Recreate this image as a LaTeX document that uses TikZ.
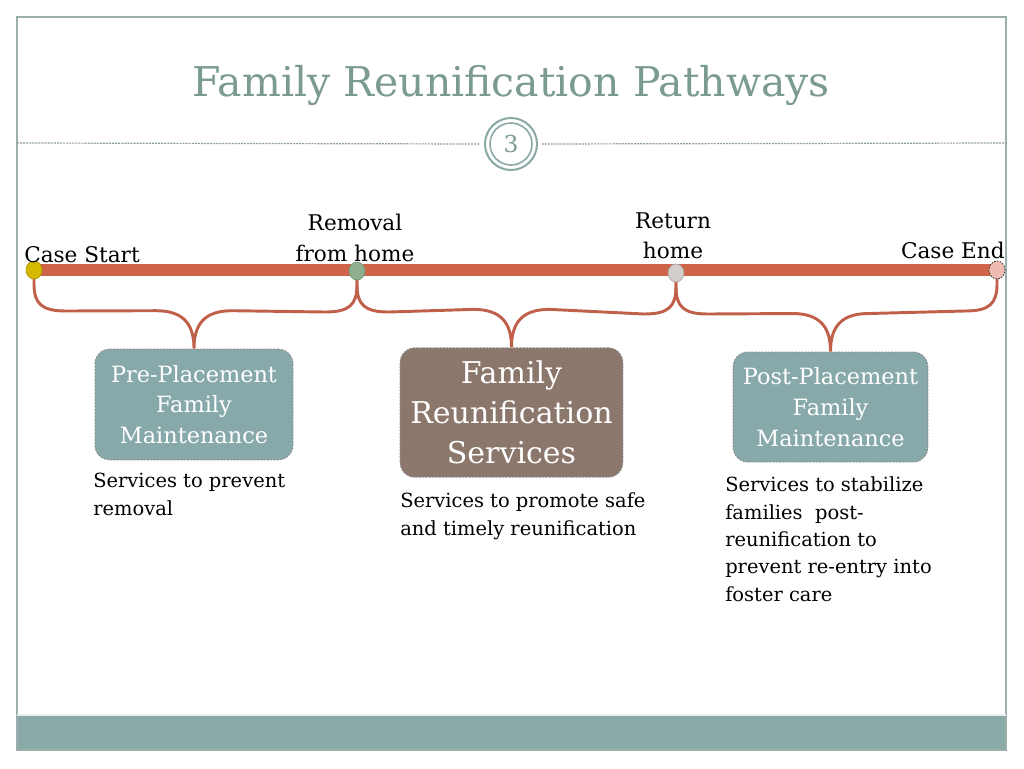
\documentclass[tikz,border=0pt]{standalone}
\usepackage{fontspec}
\setmainfont{DejaVu Serif}
\usetikzlibrary{calc,shapes.geometric}
\definecolor{frameC}{RGB}{155,176,173}
\definecolor{titleC}{RGB}{122,154,146}
\definecolor{bandC}{RGB}{138,170,168}
\definecolor{lineC}{RGB}{208,100,74}
\definecolor{braceC}{RGB}{192,96,74}
\definecolor{tealbox}{RGB}{136,169,169}
\definecolor{brownbox}{RGB}{139,119,108}
\definecolor{ringC}{RGB}{138,168,164}
\definecolor{dotY}{RGB}{212,185,0}
\definecolor{dotG}{RGB}{143,176,143}
\definecolor{dotW}{RGB}{211,205,203}
\definecolor{dotP}{RGB}{238,186,178}
\tikzset{
  frameline/.style={draw=frameC, line width=1.2pt},
  sepline/.style={draw=frameC!90!black, line width=0.9pt, dash pattern=on 1.5pt off 0.8pt},
  timeline/.style={draw=lineC, line width=9pt},
  brace/.style={draw=braceC, line width=2.2pt},
  dot/.style={ellipse, inner sep=0pt, minimum width=12pt, minimum height=13.5pt},
  box/.style={rounded corners=11pt, draw=gray!90, dash pattern=on 1.5pt off 1pt, line width=0.7pt, text=white, align=center, inner sep=0pt},
  lbl/.style={font=\fontsize{16.2pt}{23.25pt}\selectfont, align=center, inner sep=0pt},
  desc/.style={font=\fontsize{14.6pt}{20.5pt}\selectfont, align=left, inner sep=0pt, anchor=base west},
}
\begin{document}
\begin{tikzpicture}[x=0.75pt,y=-0.75pt]
\useasboundingbox (0,0) rectangle (1024,768);
% frame and band
\fill[bandC] (17,715) rectangle (1006,750);
\draw[frameline] (17,17) rectangle (1006,750);
\draw[draw=white!80!frameC, line width=1pt] (17,715) -- (1006,715);
% title
\node[text=titleC, font=\fontsize{30.75pt}{36pt}\selectfont, anchor=base, inner sep=0pt] (title) at (511,96) {Family Reunification Pathways};
% page number ring
\node[circle, draw=ringC, line width=1.5pt, minimum size=39pt, inner sep=0pt] (ringO) at (511,144) {};
\node[circle, draw=ringC, line width=1.2pt, minimum size=31.5pt, inner sep=0pt, text=titleC, font=\fontsize{17.5pt}{20pt}\selectfont] (pnum) at (511,144) {3};
\coordinate (sepL) at (17,143);
\coordinate (sepR) at (1006,143);
\draw[sepline] (sepL) -- ($(ringO.west)+(-4,0)$);
\draw[sepline] ($(ringO.east)+(4,0)$) -- (sepR);
% dots
\node[dot] (d1) at (34,270) {};
\node[dot] (d2) at (357,271) {};
\node[dot] (d3) at (676,273) {};
\node[dot] (d4) at (997,270) {};
% boxes
\node[box, fill=tealbox, minimum width=148.5pt, minimum height=83pt, font=\fontsize{16.8pt}{23pt}\selectfont] (b1) at (194,404.5) {Pre-Placement\\Family\\Maintenance};
\node[box, fill=brownbox, minimum width=167pt, minimum height=97pt, font=\fontsize{22.5pt}{30pt}\selectfont] (b2) at (511.5,412.5) {Family\\Reunification\\Services};
\node[box, fill=tealbox, minimum width=146pt, minimum height=82.5pt, font=\fontsize{16.8pt}{23pt}\selectfont] (b3) at (830.5,407) {Post-Placement\\Family\\Maintenance};
% timeline
\draw[timeline] (d1.center) -- (d4.center);
% braces
\foreach \a/\b/\c in {d1/d2/b1, d2/d3/b2, d3/d4/b3}{
  \draw[brace, line cap=round]
    (\a.center) -- ($(\a.center)+(0,14)$)
    .. controls +(0,20) and +(-24,0) .. ($(\a.center)+(32,41)$)
    -- ($(\c.north)+(-38,-38)$)
    .. controls +(28,0) and +(0,-24) .. (\c.north)
    .. controls +(0,-24) and +(-28,0) .. ($(\c.north)+(38,-38)$)
    -- ($(\b.center)+(-32,41)$)
    .. controls +(24,0) and +(0,20) .. ($(\b.center)+(0,14)$)
    -- (\b.center);
}
% redraw dots on top
\node[dot, fill=dotY, draw=dotY!80!black, line width=0.5pt] at (d1) {};
\node[dot, fill=dotG, draw=dotG!85!black, line width=0.5pt] at (d2) {};
\node[dot, fill=dotW, draw=dotW!80!black, line width=0.5pt] at (d3) {};
\node[dot, fill=dotP, draw=black!80, line width=0.6pt, dash pattern=on 1.2pt off 1pt] at (d4) {};
% labels
\node[lbl, anchor=base west] (lstart) at (24,262) {Case Start};
\node[lbl, anchor=base] (lrem1) at (355,230) {Removal};
\node[lbl, anchor=base] (lrem2) at (355,261) {from home};
\node[lbl, anchor=base] (lret1) at (673,228) {Return};
\node[lbl, anchor=base] (lret2) at (673,258) {home};
\node[lbl, anchor=base east] (lend) at (1005,258) {Case End};
% descriptions (anchor = baseline of last line)
\node[desc] (t1) at (93,515) {Services to prevent\\removal};
\node[desc] (t2) at (400,535) {Services to promote safe\\and timely reunification};
\node[desc] (t3) at (725,601) {Services to stabilize\\families\ \ post-\\reunification to\\prevent re-entry into\\foster care};
\end{tikzpicture}
\end{document}
